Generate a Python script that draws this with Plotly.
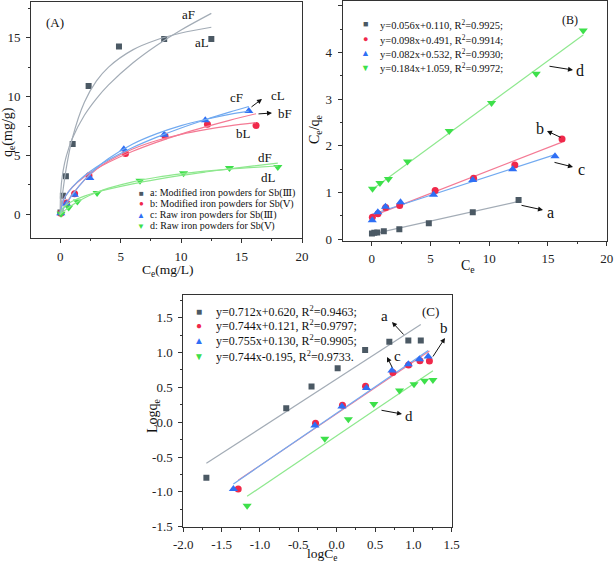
import numpy as np
import plotly.graph_objects as go

W, H = 614, 564
FONT = "Liberation Serif, Times New Roman, DejaVu Serif, serif"

# ---------------- data ----------------
names = ["a: Modified iron powders for Sb(Ⅲ)", "b: Modified iron powders for Sb(Ⅴ)",
         "c: Raw iron powders for Sb(Ⅲ)", "d: Raw iron powders for Sb(Ⅴ)"]

ce_a = [0.02, 0.22, 0.47, 1.03, 2.35, 4.86, 8.6, 12.5]
qe_a = [0.16, 1.58, 3.25, 5.97, 10.9, 14.25, 14.9, 14.9]
ce_b = [0.052, 0.53, 1.19, 2.38, 5.4, 8.67, 12.18, 16.2]
qe_b = [0.11, 0.97, 1.75, 3.28, 5.18, 6.65, 7.65, 7.55]
ce_c = [0.045, 0.52, 1.17, 2.45, 5.26, 8.6, 12.0, 15.6]
qe_c = [0.11, 0.9, 1.68, 3.1, 5.53, 6.77, 8.0, 8.78]
ce_d = [0.068, 0.7, 1.42, 3.05, 6.6, 10.2, 14.0, 18.0]
qe_d = [0.063, 0.58, 1.1, 1.83, 2.85, 3.5, 3.95, 4.03]

# fitted isotherm curves in panel (A)
curve_x_a = [0, 0.02, 0.1, 0.25, 0.5, 1, 2, 3, 4, 6, 8, 10, 12.5]
curve_aF = [0, 1.42, 2.65, 3.77, 4.93, 6.44, 8.42, 9.84, 11.0, 12.86, 14.37, 15.66, 17.07]
curve_aL = [0, 0.2, 0.95, 2.2, 3.93, 6.46, 9.53, 11.33, 12.51, 13.97, 14.83, 15.4, 15.89]
curve_x_b = [0, 0.25, 0.5, 1, 2, 3, 4, 6, 8, 10, 12, 14, 16.2]
curve_bF = [0, 1.2, 1.67, 2.31, 3.2, 3.87, 4.43, 5.36, 6.14, 6.82, 7.43, 7.99, 8.55]
curve_bL = [0, 0.49, 0.93, 1.7, 2.91, 3.83, 4.53, 5.56, 6.28, 6.8, 7.2, 7.52, 7.79]
curve_x_c = [0, 0.25, 0.5, 1, 2, 3, 4, 6, 8, 10, 12, 14, 15.6]
curve_cF = [0, 1.16, 1.64, 2.32, 3.28, 4.02, 4.64, 5.68, 6.56, 7.34, 8.04, 8.68, 9.16]
curve_cL = [0, 0.46, 0.89, 1.66, 2.93, 3.94, 4.75, 5.98, 6.86, 7.54, 8.06, 8.49, 8.77]
curve_x_d = [0, 0.25, 0.5, 1, 2, 3, 4, 6, 8, 10, 12, 14, 16, 18]
curve_dF = [0, 0.58, 0.81, 1.12, 1.55, 1.88, 2.15, 2.6, 2.98, 3.31, 3.6, 3.87, 4.12, 4.36]
curve_dL = [0, 0.23, 0.43, 0.8, 1.4, 1.86, 2.23, 2.77, 3.16, 3.45, 3.67, 3.85, 3.99, 4.11]

# linear fits given in the legends
lang_slope = [0.056, 0.098, 0.082, 0.184]
lang_icpt = [0.110, 0.491, 0.532, 1.059]
lang_r2 = ["0.9925", "0.9914", "0.9930", "0.9972"]
freu_slope = [0.712, 0.744, 0.755, 0.744]
freu_icpt = [0.620, 0.121, 0.130, -0.195]
freu_r2 = ["0.9463", "0.9797", "0.9905", "0.9733"]

# tick labels of panel C
c_xticks = [-2.0, -1.5, -1.0, -0.5, 0.0, 0.5, 1.0, 1.5]
c_xticklabels = ["-2.0", "-1.5", "-1.0", "-0.5", "0.0", "0.5", "1.0", "1.5"]
c_yticks = [-1.5, -1.0, -0.5, 0.0, 0.5, 1.0, 1.5]
c_yticklabels = ["-1.5", "-1.0", "-0.5", "0.0", "0.5", "1.0", "1.5"]

ce_all = [ce_a, ce_b, ce_c, ce_d]
qe_all = [qe_a, qe_b, qe_c, qe_d]

# ---------------- styles ----------------
mcolors = ["#4b5964", "#f0284a", "#2f6ff5", "#3de04a"]
lcolors = ["#a3acb6", "#f47a94", "#72aaf0", "#8ee88e"]
symbols = ["square", "circle", "triangle-up", "triangle-down"]
msizes = [6, 7, 8, 8]
glyphs = ["■", "●", "▲", "▼"]

fig = go.Figure()

# Panel A
for i in range(4):
    fig.add_trace(go.Scatter(x=ce_all[i], y=qe_all[i], mode="markers", xaxis="x", yaxis="y",
                             marker=dict(symbol=symbols[i], size=msizes[i], color=mcolors[i]),
                             showlegend=False, name=names[i]))
curves = [(curve_x_a, curve_aF, 0), (curve_x_a, curve_aL, 0), (curve_x_b, curve_bF, 1),
          (curve_x_b, curve_bL, 1), (curve_x_c, curve_cF, 2), (curve_x_c, curve_cL, 2),
          (curve_x_d, curve_dF, 3), (curve_x_d, curve_dL, 3)]
for cx, cy, i in curves:
    fig.add_trace(go.Scatter(x=cx, y=cy, mode="lines", xaxis="x", yaxis="y",
                             line=dict(color=lcolors[i], width=1.2, shape="spline"),
                             showlegend=False, hoverinfo="skip"))

# Panel B (Langmuir linear)
for i in range(4):
    ce = np.array(ce_all[i]); qe = np.array(qe_all[i])
    xs = np.array([ce.min(), ce.max()])
    fig.add_trace(go.Scatter(x=xs, y=lang_slope[i] * xs + lang_icpt[i], mode="lines",
                             xaxis="x2", yaxis="y2", line=dict(color=lcolors[i], width=1.2),
                             showlegend=False, hoverinfo="skip"))
for i in range(4):
    ce = np.array(ce_all[i]); qe = np.array(qe_all[i])
    fig.add_trace(go.Scatter(x=ce, y=ce / qe, mode="markers", xaxis="x2", yaxis="y2",
                             marker=dict(symbol=symbols[i], size=msizes[i], color=mcolors[i]),
                             showlegend=False))

# Panel C (Freundlich linear)
for i in range(4):
    lc = np.log10(np.array(ce_all[i]))
    xs = np.array([lc.min(), lc.max()])
    fig.add_trace(go.Scatter(x=xs, y=freu_slope[i] * xs + freu_icpt[i], mode="lines",
                             xaxis="x3", yaxis="y3", line=dict(color=lcolors[i], width=1.2),
                             showlegend=False, hoverinfo="skip"))
for i in range(4):
    lc = np.log10(np.array(ce_all[i])); lq = np.log10(np.array(qe_all[i]))
    fig.add_trace(go.Scatter(x=lc, y=lq, mode="markers", xaxis="x3", yaxis="y3",
                             marker=dict(symbol=symbols[i], size=msizes[i], color=mcolors[i]),
                             showlegend=False))


def dom_x(a, b):
    return [a / W, b / W]


def dom_y(top, bottom):
    return [1 - bottom / H, 1 - top / H]


def axis(dom, rng, dtick, minor, anchor, fs=13, tv=None, tt=None, standoff=3):
    d = dict(domain=dom, range=rng, dtick=dtick, tick0=0, showline=True, linecolor="#333",
             linewidth=1, mirror=True, ticks="outside", ticklen=4, tickcolor="#333",
             showgrid=False, zeroline=False, anchor=anchor, ticklabelstandoff=standoff,
             automargin=False,
             tickfont=dict(family=FONT, size=fs, color="#222"),
             minor=dict(ticks="outside", ticklen=2, tickcolor="#333", dtick=minor, showgrid=False))
    if tv is not None:
        d.update(tickmode="array", tickvals=tv, ticktext=tt)
    return d


fig.update_layout(
    width=W, height=H, margin=dict(l=0, r=0, t=0, b=0, pad=0, autoexpand=False),
    paper_bgcolor="white", plot_bgcolor="white", showlegend=False,
    font=dict(family=FONT, color="#222"),
    xaxis=axis(dom_x(31.2, 302), [-2.4, 20], 5, 2.5, "y", standoff=2),
    yaxis=axis(dom_y(2.4, 238), [-2.0, 18.0], 5, 2.5, "x"),
    xaxis2=axis(dom_x(342.7, 606.7), [-2.47, 20], 5, 2.5, "y2", standoff=2),
    yaxis2=axis(dom_y(0.5, 240.7), [-0.03, 5.11], 1, 0.5, "x2"),
    xaxis3=axis(dom_x(183.3, 451.7), [-2.0, 1.5], 0.5, 0.25, "y3", fs=13,
                tv=c_xticks, tt=c_xticklabels, standoff=2),
    yaxis3=axis(dom_y(295, 526.7), [-1.5, 1.826], 0.5, 0.25, "x3", fs=13,
                tv=c_yticks, tt=c_yticklabels),
)

ann = []


def txt(x, y, s, size=13, xanchor="center", angle=0, color="#111"):
    ann.append(dict(x=x / W, y=1 - y / H, xref="paper", yref="paper", text=s, showarrow=False,
                    xanchor=xanchor, yanchor="middle", textangle=angle,
                    font=dict(family=FONT, size=size, color=color)))


def arrow(hx, hy, tx, ty):
    ann.append(dict(x=hx / W, y=1 - hy / H, xref="paper", yref="paper", text="", showarrow=True,
                    ax=tx - hx, ay=ty - hy, arrowhead=2, arrowsize=1, arrowwidth=1,
                    arrowcolor="#111"))


# axis titles
txt(8, 132, "q<sub>e</sub>(mg/g)", 14, angle=-90)
txt(167, 270, "C<sub>e</sub>(mg/L)", 13.5)
txt(316, 129, "C<sub>e</sub>/q<sub>e</sub>", 14, angle=-90)
txt(468, 266, "C<sub>e</sub>", 14)
txt(153, 416, "Logq<sub>e</sub>", 14, angle=-90)
txt(322, 554, "logC<sub>e</sub>", 13.5)

# panel labels
txt(55, 22, "(A)", 13)
txt(570, 20, "(B)", 12)
txt(430, 311, "(C)", 13)

# panel A curve labels
txt(188, 15, "aF", 13)
txt(202, 42, "aL", 13)
txt(236, 98, "cF", 13)
txt(269, 95, "cL", 13, xanchor="left")
arrow(262, 99, 250, 108)
txt(276, 113, "bF", 13, xanchor="left")
arrow(272, 113, 257, 114)
txt(243, 133, "bL", 13)
txt(265, 157, "dF", 13)
txt(268, 177, "dL", 13)

# panel A legend
ya = [193, 204, 215, 226]
for i in range(4):
    txt(141, ya[i], glyphs[i], 8, color=mcolors[i])
    txt(148, ya[i], names[i], 10, xanchor="left")

# panel B legend
yb = [24.3, 39.3, 53.3, 67.7]
for i in range(4):
    txt(365, yb[i], glyphs[i], 9, color=mcolors[i])
    txt(378, yb[i], "y=%.3fx%+.3f, R<sup>2</sup>=%s;" % (lang_slope[i], lang_icpt[i], lang_r2[i]),
        10.5, xanchor="left")

# panel B labels
txt(580, 70, "d", 16)
arrow(573, 70, 548, 66)
txt(540, 128, "b", 16)
arrow(547, 131, 562, 138)
txt(581, 170, "c", 16)
arrow(573, 167, 553, 162)
txt(550, 212, "a", 16)
arrow(543, 210, 520, 205)

# panel C legend
yc = [311, 325, 340, 356]
for i in range(4):
    end = "." if i == 3 else ";"
    txt(199, yc[i], glyphs[i], 10, color=mcolors[i])
    txt(214, yc[i], "y=%.3fx%+.3f, R<sup>2</sup>=%s%s" % (freu_slope[i], freu_icpt[i], freu_r2[i], end),
        12, xanchor="left")

# panel C labels
txt(385, 316, "a", 15)
arrow(392, 322, 405, 336)
txt(444, 328, "b", 15)
arrow(445, 338, 432, 358)
txt(397, 356, "c", 15)
arrow(387, 357, 393, 369)
txt(409, 416, "d", 15)
arrow(402, 414, 380, 410)

fig.update_layout(annotations=ann)
fig.write_html("out.html", config={"displayModeBar": False},
               post_script="document.body.style.margin='0';document.body.style.overflow='hidden';")
